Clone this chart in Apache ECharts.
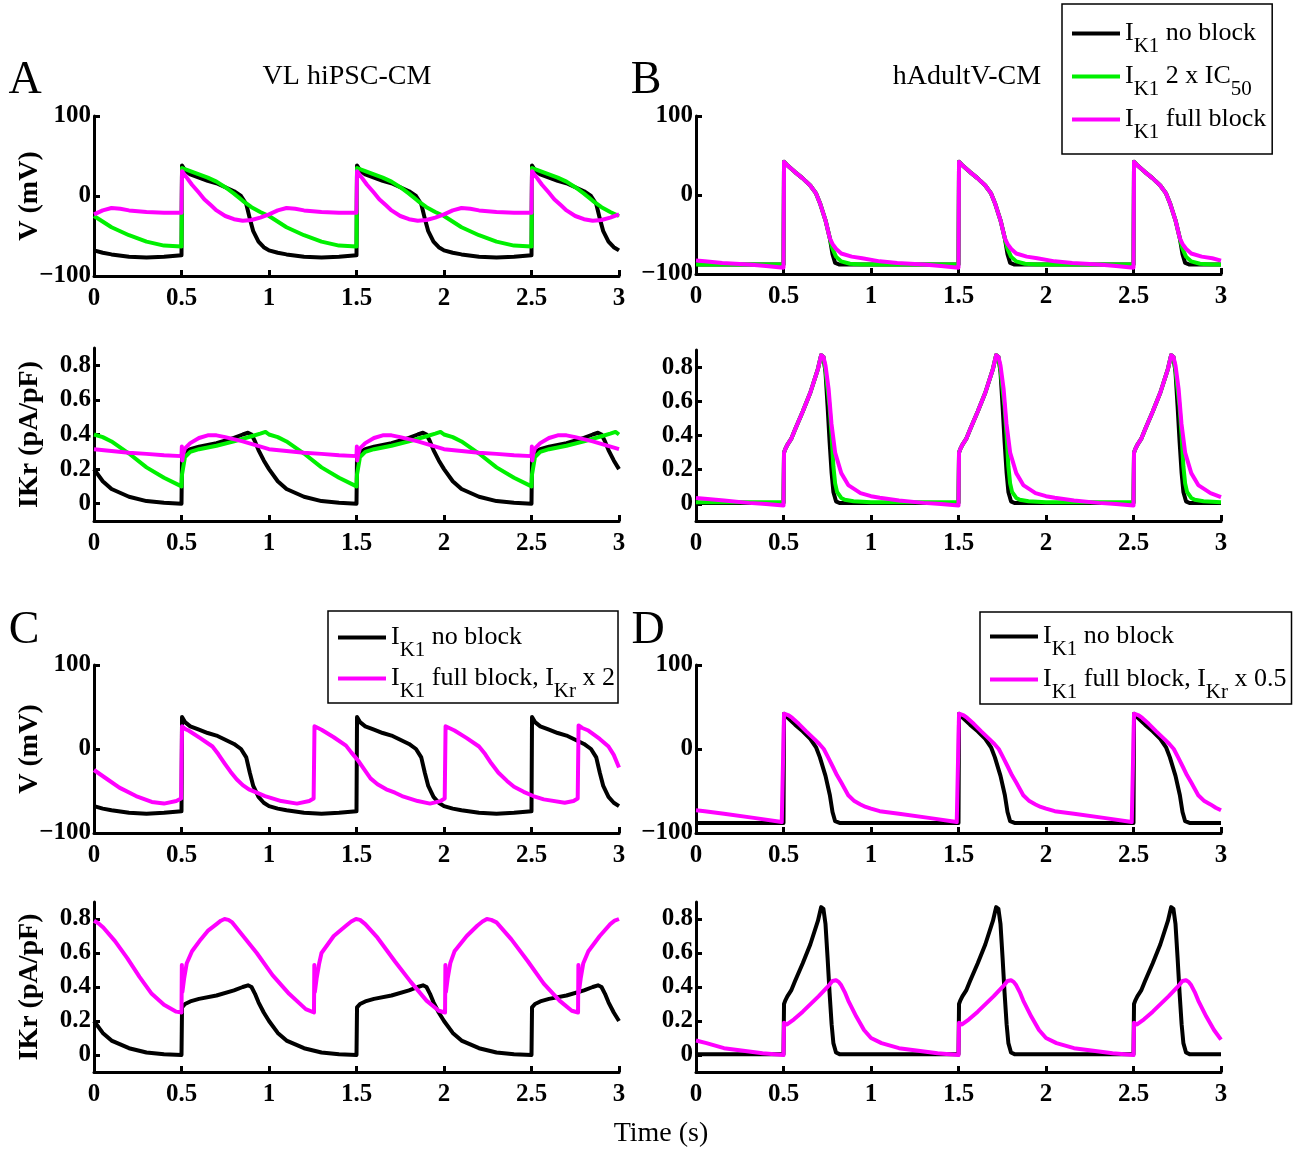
<!DOCTYPE html>
<html>
<head>
<meta charset="utf-8">
<script src="https://cdn.jsdelivr.net/npm/echarts@6.0.0/dist/echarts.min.js"></script>
<style>
  html, body { margin: 0; padding: 0; background: #fff; }
  #chart { width: 1304px; height: 1151px; }
</style>
</head>
<body>
<div id="chart"></div>
<script>
// ---- data: [time (s), value] ----
// VL hiPSC-CM, membrane potential (mV)
const hipscVNoBlock = [[0,-68],[0.05,-71],[0.1,-73],[0.2,-76],[0.3,-77],[0.4,-76],[0.5,-74],
  [0.503,38],[0.52,32],[0.55,27],[0.6,23],[0.65,19],[0.7,16],[0.75,11],[0.8,6],[0.84,0],[0.87,-10],[0.89,-28],[0.91,-44],[0.94,-57],[0.97,-64],[1.0,-68],[1.05,-71],[1.1,-73],[1.2,-76],[1.3,-77],[1.4,-76],[1.5,-74],
  [1.503,38],[1.52,32],[1.55,27],[1.6,23],[1.65,19],[1.7,16],[1.75,11],[1.8,6],[1.84,0],[1.87,-10],[1.89,-28],[1.91,-44],[1.94,-57],[1.97,-64],[2.0,-68],[2.05,-71],[2.1,-73],[2.2,-76],[2.3,-77],[2.4,-76],[2.5,-74],
  [2.503,38],[2.52,32],[2.55,27],[2.6,23],[2.65,19],[2.7,16],[2.75,11],[2.8,6],[2.84,0],[2.87,-10],[2.89,-28],[2.91,-44],[2.94,-57],[2.97,-64],[3.0,-68]];
const hipscVIc50 = [[0,-25],[0.1,-39],[0.2,-49],[0.3,-57],[0.4,-62],[0.5,-63],
  [0.503,35],[0.55,31],[0.6,27],[0.65,23],[0.7,18],[0.75,11],[0.8,3],[0.85,-6],[0.9,-14],[0.95,-20],[1.0,-25],[1.1,-39],[1.2,-49],[1.3,-57],[1.4,-62],[1.5,-63],
  [1.503,35],[1.55,31],[1.6,27],[1.65,23],[1.7,18],[1.75,11],[1.8,3],[1.85,-6],[1.9,-14],[1.95,-20],[2.0,-25],[2.1,-39],[2.2,-49],[2.3,-57],[2.4,-62],[2.5,-63],
  [2.503,35],[2.55,31],[2.6,27],[2.65,23],[2.7,18],[2.75,11],[2.8,3],[2.85,-6],[2.9,-14],[2.95,-20],[3.0,-25]];
const hipscVFull = [[0,-23],[0.05,-18],[0.1,-15],[0.15,-16],[0.2,-18],[0.3,-20],[0.4,-21],[0.5,-21],
  [0.503,31],[0.53,23],[0.56,14],[0.6,4],[0.63,-4],[0.67,-12],[0.7,-18],[0.75,-25],[0.8,-29],[0.85,-31],[0.9,-30],[0.95,-27],[1.0,-23],[1.05,-18],[1.1,-15],[1.15,-16],[1.2,-18],[1.3,-20],[1.4,-21],[1.5,-21],
  [1.503,31],[1.53,23],[1.56,14],[1.6,4],[1.63,-4],[1.67,-12],[1.7,-18],[1.75,-25],[1.8,-29],[1.85,-31],[1.9,-30],[1.95,-27],[2.0,-23],[2.05,-18],[2.1,-15],[2.15,-16],[2.2,-18],[2.3,-20],[2.4,-21],[2.5,-21],
  [2.503,31],[2.53,23],[2.56,14],[2.6,4],[2.63,-4],[2.67,-12],[2.7,-18],[2.75,-25],[2.8,-29],[2.85,-31],[2.9,-30],[2.95,-27],[3.0,-23]];
const hipscVKr2 = [[0,-25],[0.076,-36],[0.145,-46],[0.24,-56],[0.33,-63],[0.4,-65],[0.47,-62],[0.498,-59],
  [0.503,27],[0.52,24],[0.54,22],[0.607,13],[0.677,3],[0.71,-6],[0.746,-17],[0.78,-27],[0.815,-36],[0.85,-43],[0.885,-48],[0.93,-52],[0.977,-56],[1.07,-62],[1.16,-65],[1.23,-62],[1.255,-59],
  [1.26,27],[1.28,25],[1.3,23],[1.37,14],[1.44,4],[1.47,-4],[1.51,-14],[1.55,-26],[1.58,-35],[1.62,-42],[1.67,-48],[1.72,-52],[1.76,-56],[1.85,-62],[1.92,-65],[1.98,-62],[2.004,-59],
  [2.009,27],[2.03,25],[2.06,22],[2.13,13],[2.2,3],[2.235,-6],[2.27,-17],[2.31,-28],[2.36,-38],[2.4,-45],[2.455,-51],[2.51,-56],[2.57,-60],[2.69,-64],[2.74,-62],[2.764,-59],
  [2.769,28],[2.79,25],[2.825,22],[2.89,12],[2.94,3],[2.97,-7],[3.0,-22]];

// VL hiPSC-CM, IKr (pA/pF)
const hipscINoBlock = [[0,0.2],[0.05,0.13],[0.1,0.085],[0.2,0.04],[0.3,0.015],[0.4,0.005],[0.5,0],
  [0.503,0.28],[0.52,0.3],[0.55,0.315],[0.6,0.33],[0.7,0.35],[0.8,0.38],[0.85,0.4],[0.88,0.41],[0.9,0.4],[0.92,0.36],[0.94,0.31],[0.97,0.25],[1.0,0.2],[1.05,0.13],[1.1,0.085],[1.2,0.04],[1.3,0.015],[1.4,0.005],[1.5,0],
  [1.503,0.28],[1.52,0.3],[1.55,0.315],[1.6,0.33],[1.7,0.35],[1.8,0.38],[1.85,0.4],[1.88,0.41],[1.9,0.4],[1.92,0.36],[1.94,0.31],[1.97,0.25],[2.0,0.2],[2.05,0.13],[2.1,0.085],[2.2,0.04],[2.3,0.015],[2.4,0.005],[2.5,0],
  [2.503,0.28],[2.52,0.3],[2.55,0.315],[2.6,0.33],[2.7,0.35],[2.8,0.38],[2.85,0.4],[2.88,0.41],[2.9,0.4],[2.92,0.36],[2.94,0.31],[2.97,0.25],[3.0,0.2]];
const hipscIIc50 = [[0,0.4],[0.05,0.385],[0.1,0.36],[0.2,0.29],[0.3,0.21],[0.4,0.15],[0.5,0.1],
  [0.503,0.17],[0.52,0.27],[0.55,0.3],[0.6,0.315],[0.7,0.335],[0.8,0.36],[0.9,0.39],[0.95,0.405],[0.98,0.415],[1.0,0.4],[1.05,0.385],[1.1,0.36],[1.2,0.29],[1.3,0.21],[1.4,0.15],[1.5,0.1],
  [1.503,0.17],[1.52,0.27],[1.55,0.3],[1.6,0.315],[1.7,0.335],[1.8,0.36],[1.9,0.39],[1.95,0.405],[1.98,0.415],[2.0,0.4],[2.05,0.385],[2.1,0.36],[2.2,0.29],[2.3,0.21],[2.4,0.15],[2.5,0.1],
  [2.503,0.17],[2.52,0.27],[2.55,0.3],[2.6,0.315],[2.7,0.335],[2.8,0.36],[2.9,0.39],[2.95,0.405],[2.98,0.415],[3.0,0.4]];
const hipscIFull = [[0,0.315],[0.1,0.305],[0.2,0.295],[0.3,0.288],[0.4,0.28],[0.5,0.275],
  [0.502,0.33],[0.504,0.25],[0.51,0.29],[0.52,0.32],[0.55,0.35],[0.6,0.38],[0.65,0.395],[0.7,0.395],[0.75,0.385],[0.85,0.36],[1.0,0.315],[1.1,0.305],[1.2,0.295],[1.3,0.288],[1.4,0.28],[1.5,0.275],
  [1.502,0.33],[1.504,0.25],[1.51,0.29],[1.52,0.32],[1.55,0.35],[1.6,0.38],[1.65,0.395],[1.7,0.395],[1.75,0.385],[1.85,0.36],[2.0,0.315],[2.1,0.305],[2.2,0.295],[2.3,0.288],[2.4,0.28],[2.5,0.275],
  [2.502,0.33],[2.504,0.25],[2.51,0.29],[2.52,0.32],[2.55,0.35],[2.6,0.38],[2.65,0.395],[2.7,0.395],[2.75,0.385],[2.85,0.36],[3.0,0.315]];
const hipscIKr2 = [[0,0.79],[0.025,0.775],[0.053,0.75],[0.12,0.67],[0.19,0.57],[0.26,0.46],[0.33,0.36],[0.4,0.295],[0.47,0.255],[0.5,0.25],
  [0.502,0.53],[0.505,0.37],[0.515,0.45],[0.53,0.54],[0.56,0.61],[0.61,0.68],[0.65,0.73],[0.7,0.77],[0.725,0.79],[0.746,0.8],[0.768,0.795],[0.79,0.78],[0.86,0.69],[0.93,0.6],[1.02,0.47],[1.115,0.36],[1.21,0.27],[1.257,0.25],
  [1.259,0.53],[1.262,0.37],[1.272,0.45],[1.287,0.54],[1.3,0.6],[1.37,0.7],[1.44,0.76],[1.47,0.785],[1.497,0.8],[1.52,0.795],[1.55,0.77],[1.62,0.69],[1.72,0.55],[1.81,0.43],[1.9,0.32],[1.97,0.26],[2.006,0.25],
  [2.008,0.53],[2.011,0.37],[2.021,0.45],[2.036,0.54],[2.06,0.61],[2.13,0.7],[2.19,0.76],[2.22,0.785],[2.245,0.8],[2.27,0.795],[2.3,0.78],[2.385,0.68],[2.48,0.55],[2.57,0.42],[2.66,0.32],[2.73,0.26],[2.766,0.25],
  [2.768,0.53],[2.771,0.37],[2.781,0.45],[2.796,0.54],[2.825,0.61],[2.89,0.7],[2.95,0.77],[2.975,0.79],[3.0,0.8]];

// hAdultV-CM, membrane potential (mV)
const adultVNoBlock = [[0,-88],[0.25,-88],[0.5,-88],
  [0.503,42],[0.52,38],[0.566,29],[0.61,21],[0.653,12],[0.686,2],[0.708,-10],[0.74,-32],[0.765,-55],[0.78,-75],[0.795,-86],[0.82,-88],[1.1,-88],[1.5,-88],
  [1.503,42],[1.52,38],[1.566,29],[1.61,21],[1.653,12],[1.686,2],[1.708,-10],[1.74,-32],[1.765,-55],[1.78,-75],[1.795,-86],[1.82,-88],[2.1,-88],[2.5,-88],
  [2.503,42],[2.52,38],[2.566,29],[2.61,21],[2.653,12],[2.686,2],[2.708,-10],[2.74,-32],[2.765,-55],[2.78,-75],[2.795,-86],[2.82,-88],[3.0,-88]];
const adultVIc50 = [[0,-88],[0.25,-88],[0.5,-88],
  [0.503,42],[0.52,38],[0.566,29],[0.61,21],[0.653,12],[0.686,2],[0.708,-10],[0.74,-32],[0.765,-55],[0.78,-68],[0.8,-78],[0.83,-84],[0.88,-87],[0.95,-88],[1.2,-88],[1.5,-88],
  [1.503,42],[1.52,38],[1.566,29],[1.61,21],[1.653,12],[1.686,2],[1.708,-10],[1.74,-32],[1.765,-55],[1.78,-68],[1.8,-78],[1.83,-84],[1.88,-87],[1.95,-88],[2.2,-88],[2.5,-88],
  [2.503,42],[2.52,38],[2.566,29],[2.61,21],[2.653,12],[2.686,2],[2.708,-10],[2.74,-32],[2.765,-55],[2.78,-68],[2.8,-78],[2.83,-84],[2.88,-87],[2.95,-88],[3.0,-88]];
const adultVFull = [[0,-83],[0.05,-84],[0.15,-86],[0.3,-88],[0.4,-90],[0.5,-92],
  [0.503,42],[0.52,38],[0.566,29],[0.61,21],[0.653,12],[0.686,2],[0.708,-10],[0.74,-32],[0.765,-55],[0.78,-62],[0.8,-68],[0.83,-74],[0.89,-78],[0.95,-80],[1.05,-84],[1.15,-86],[1.3,-88],[1.4,-90],[1.5,-92],
  [1.503,42],[1.52,38],[1.566,29],[1.61,21],[1.653,12],[1.686,2],[1.708,-10],[1.74,-32],[1.765,-55],[1.78,-62],[1.8,-68],[1.83,-74],[1.89,-78],[1.95,-80],[2.05,-84],[2.15,-86],[2.3,-88],[2.4,-90],[2.5,-92],
  [2.503,42],[2.52,38],[2.566,29],[2.61,21],[2.653,12],[2.686,2],[2.708,-10],[2.74,-32],[2.765,-55],[2.78,-62],[2.8,-68],[2.83,-74],[2.89,-78],[2.95,-80],[3.0,-83]];
const adultVKr05 = [[0,-73],[0.05,-74],[0.16,-77],[0.33,-82],[0.49,-87],[0.5,-89],
  [0.503,42],[0.53,40],[0.55,37],[0.587,30],[0.63,21],[0.675,12],[0.705,6],[0.73,0],[0.755,-10],[0.784,-22],[0.805,-31],[0.83,-40],[0.87,-55],[0.905,-62],[0.94,-66],[0.97,-69],[1.0,-71],[1.05,-74],[1.16,-77],[1.33,-82],[1.49,-87],[1.5,-89],
  [1.503,42],[1.53,40],[1.55,37],[1.587,30],[1.63,21],[1.675,12],[1.705,6],[1.73,0],[1.755,-10],[1.784,-22],[1.805,-31],[1.83,-40],[1.87,-55],[1.905,-62],[1.94,-66],[1.97,-69],[2.0,-71],[2.05,-74],[2.16,-77],[2.33,-82],[2.49,-87],[2.5,-89],
  [2.503,42],[2.53,40],[2.55,37],[2.587,30],[2.63,21],[2.675,12],[2.705,6],[2.73,0],[2.755,-10],[2.784,-22],[2.805,-31],[2.83,-40],[2.87,-55],[2.905,-62],[2.94,-66],[2.97,-70],[3.0,-73]];

// hAdultV-CM, IKr (pA/pF)
const adultINoBlock = [[0,0.005],[0.25,0.005],[0.5,0.005],
  [0.503,0.3],[0.51,0.32],[0.522,0.345],[0.544,0.38],[0.566,0.435],[0.61,0.54],[0.653,0.65],[0.697,0.79],[0.715,0.87],[0.728,0.86],[0.74,0.77],[0.752,0.57],[0.763,0.37],[0.775,0.18],[0.785,0.07],[0.8,0.015],[0.82,0.005],[1.1,0.005],[1.5,0.005],
  [1.503,0.3],[1.51,0.32],[1.522,0.345],[1.544,0.38],[1.566,0.435],[1.61,0.54],[1.653,0.65],[1.697,0.79],[1.715,0.87],[1.728,0.86],[1.74,0.77],[1.752,0.57],[1.763,0.37],[1.775,0.18],[1.785,0.07],[1.8,0.015],[1.82,0.005],[2.1,0.005],[2.5,0.005],
  [2.503,0.3],[2.51,0.32],[2.522,0.345],[2.544,0.38],[2.566,0.435],[2.61,0.54],[2.653,0.65],[2.697,0.79],[2.715,0.87],[2.728,0.86],[2.74,0.77],[2.752,0.57],[2.763,0.37],[2.775,0.18],[2.785,0.07],[2.8,0.015],[2.82,0.005],[3.0,0.005]];
const adultIIc50 = [[0,0.01],[0.25,0.01],[0.5,0.01],
  [0.503,0.3],[0.51,0.32],[0.522,0.345],[0.544,0.38],[0.566,0.435],[0.61,0.54],[0.653,0.65],[0.697,0.79],[0.715,0.87],[0.728,0.86],[0.74,0.78],[0.752,0.67],[0.763,0.57],[0.775,0.4],[0.785,0.22],[0.795,0.12],[0.806,0.07],[0.83,0.035],[0.85,0.024],[0.9,0.015],[1.0,0.01],[1.5,0.01],
  [1.503,0.3],[1.51,0.32],[1.522,0.345],[1.544,0.38],[1.566,0.435],[1.61,0.54],[1.653,0.65],[1.697,0.79],[1.715,0.87],[1.728,0.86],[1.74,0.78],[1.752,0.67],[1.763,0.57],[1.775,0.4],[1.785,0.22],[1.795,0.12],[1.806,0.07],[1.83,0.035],[1.85,0.024],[1.9,0.015],[2.0,0.01],[2.5,0.01],
  [2.503,0.3],[2.51,0.32],[2.522,0.345],[2.544,0.38],[2.566,0.435],[2.61,0.54],[2.653,0.65],[2.697,0.79],[2.715,0.87],[2.728,0.86],[2.74,0.78],[2.752,0.67],[2.763,0.57],[2.775,0.4],[2.785,0.22],[2.795,0.12],[2.806,0.07],[2.83,0.035],[2.85,0.024],[2.9,0.015],[3.0,0.01]];
const adultIFull = [[0,0.035],[0.05,0.03],[0.16,0.02],[0.3,0.006],[0.4,0],[0.5,-0.01],
  [0.503,0.3],[0.51,0.32],[0.522,0.345],[0.544,0.38],[0.566,0.435],[0.61,0.54],[0.653,0.65],[0.697,0.79],[0.715,0.87],[0.728,0.86],[0.74,0.81],[0.758,0.67],[0.774,0.47],[0.795,0.3],[0.83,0.18],[0.87,0.11],[0.94,0.063],[1.0,0.045],[1.05,0.036],[1.16,0.02],[1.3,0.006],[1.4,0],[1.5,-0.01],
  [1.503,0.3],[1.51,0.32],[1.522,0.345],[1.544,0.38],[1.566,0.435],[1.61,0.54],[1.653,0.65],[1.697,0.79],[1.715,0.87],[1.728,0.86],[1.74,0.81],[1.758,0.67],[1.774,0.47],[1.795,0.3],[1.83,0.18],[1.87,0.11],[1.94,0.063],[2.0,0.045],[2.05,0.036],[2.16,0.02],[2.3,0.006],[2.4,0],[2.5,-0.01],
  [2.503,0.3],[2.51,0.32],[2.522,0.345],[2.544,0.38],[2.566,0.435],[2.61,0.54],[2.653,0.65],[2.697,0.79],[2.715,0.87],[2.728,0.86],[2.74,0.81],[2.758,0.67],[2.774,0.47],[2.795,0.3],[2.83,0.18],[2.87,0.11],[2.94,0.063],[3.0,0.04]];
const adultIKr05 = [[0,0.085],[0.06,0.07],[0.16,0.04],[0.38,0.01],[0.5,0],
  [0.503,0.19],[0.52,0.18],[0.56,0.21],[0.61,0.255],[0.7,0.345],[0.76,0.41],[0.78,0.435],[0.8,0.44],[0.815,0.43],[0.83,0.41],[0.85,0.37],[0.87,0.32],[0.916,0.226],[0.96,0.147],[1.0,0.1],[1.06,0.07],[1.16,0.04],[1.38,0.01],[1.5,0],
  [1.503,0.19],[1.52,0.18],[1.56,0.21],[1.61,0.255],[1.7,0.345],[1.76,0.41],[1.78,0.435],[1.8,0.44],[1.815,0.43],[1.83,0.41],[1.85,0.37],[1.87,0.32],[1.916,0.226],[1.96,0.147],[2.0,0.1],[2.06,0.07],[2.16,0.04],[2.38,0.01],[2.5,0],
  [2.503,0.19],[2.52,0.18],[2.56,0.21],[2.61,0.255],[2.7,0.345],[2.76,0.41],[2.78,0.435],[2.8,0.44],[2.815,0.43],[2.83,0.41],[2.85,0.37],[2.87,0.32],[2.916,0.226],[2.96,0.147],[3.0,0.09]];

const ikrTicks = [0, 0.2, 0.4, 0.6, 0.8];
const legendLabels = {
  noblock: '{t|I}{s|K1}{t| no block}',
  ic50: '{t|I}{s|K1}{t| 2 x IC}{s|50}',
  full: '{t|I}{s|K1}{t| full block}',
  kr2: '{t|I}{s|K1}{t| full block, I}{s|Kr}{t| x 2}',
  kr05: '{t|I}{s|K1}{t| full block, I}{s|Kr}{t| x 0.5}'
};

const FONT = '"Liberation Serif", "Times New Roman", serif';
const BLACK = '#000000', GREEN = '#00f000', MAGENTA = '#ff00ff';

// panel boxes: left, top, width, height
const grids = [
  { left: 94, top: 116, width: 525, height: 160 },
  { left: 94, top: 348, width: 525, height: 173 },
  { left: 696, top: 116, width: 525, height: 158 },
  { left: 696, top: 350, width: 525, height: 171 },
  { left: 94, top: 665, width: 525, height: 168 },
  { left: 94, top: 902, width: 525, height: 170 },
  { left: 696, top: 665, width: 525, height: 168 },
  { left: 696, top: 902, width: 525, height: 170 }
];

const axisLine = { onZero: false, lineStyle: { color: '#000', width: 3 } };
const tickStyle = { color: '#000', width: 3 };
const tickFont = { color: '#000', fontFamily: FONT, fontSize: 25, fontWeight: 'bold' };
const nameFont = { color: '#000', fontFamily: FONT, fontSize: 28, fontWeight: 'bold' };

function xAxis(i) {
  return {
    type: 'value', gridIndex: i, min: 0, max: 3, interval: 0.5,
    axisLine: axisLine,
    axisTick: { inside: true, length: 6, lineStyle: tickStyle },
    axisLabel: Object.assign({ margin: 10 }, tickFont),
    splitLine: { show: false }
  };
}
function yAxisV(i, withName) {
  return {
    type: 'value', gridIndex: i, min: -100, max: 100, interval: 100,
    axisLine: axisLine,
    axisTick: { inside: true, length: 6, lineStyle: tickStyle },
    axisLabel: Object.assign({ margin: 3, formatter: v => String(v).replace('-', '\u2212') }, tickFont),
    splitLine: { show: false },
    name: withName ? 'V (mV)' : '', nameLocation: 'middle', nameGap: 50, nameRotate: 90,
    nameMoveOverlap: false,
    nameTextStyle: nameFont
  };
}
function yAxisI(i, withName) {
  return {
    type: 'value', gridIndex: i, min: -0.1, max: 0.9,
    axisLine: axisLine,
    axisTick: { inside: true, length: 6, lineStyle: tickStyle, customValues: ikrTicks },
    axisLabel: Object.assign({ margin: 3, customValues: ikrTicks,
      formatter: v => (v === 0 ? '0' : String(v)) }, tickFont),
    splitLine: { show: false },
    name: withName ? 'IKr (pA/pF)' : '', nameLocation: 'middle', nameGap: 50, nameRotate: 90,
    nameMoveOverlap: false,
    nameTextStyle: nameFont
  };
}
function trace(name, data, color, idx) {
  return {
    type: 'line', name: name, data: data, xAxisIndex: idx, yAxisIndex: idx,
    showSymbol: false, symbol: 'none', color: color,
    itemStyle: { color: color }, lineStyle: { color: color, width: 4, join: 'round' },
    silent: true, animation: false
  };
}
function legend(names, left, top, padding, gap) {
  return {
    data: names, orient: 'vertical', left: left, top: top, padding: padding,
    itemGap: gap, itemWidth: 48, itemHeight: 4, icon: 'rect', selectedMode: false,
    backgroundColor: '#fff', borderColor: '#000', borderWidth: 1.5, borderRadius: 0,
    formatter: n => legendLabels[n],
    textStyle: {
      color: '#000',
      rich: {
        t: { fontFamily: FONT, fontSize: 26, lineHeight: 30, color: '#000' },
        s: { fontFamily: FONT, fontSize: 21, lineHeight: 14, padding: [26, 0, 0, 0], color: '#000' }
      }
    }
  };
}
function label(text, x, y, size, weight) {
  return {
    type: 'text', x: x, y: y, silent: true,
    style: { text: text, fill: '#000', font: (weight || 'normal') + ' ' + size + 'px ' + FONT,
      align: 'center', verticalAlign: 'middle', textAlign: 'center', textVerticalAlign: 'middle' }
  };
}

const chart = echarts.init(document.getElementById('chart'));
chart.setOption({
  backgroundColor: '#fff',
  animation: false,
  grid: grids,
  xAxis: [0, 1, 2, 3, 4, 5, 6, 7].map(xAxis),
  yAxis: [yAxisV(0, true), yAxisI(1, true), yAxisV(2, false), yAxisI(3, false),
          yAxisV(4, true), yAxisI(5, true), yAxisV(6, false), yAxisI(7, false)],
  legend: [
    legend(['noblock', 'ic50', 'full'], 1062, 4, [6, 6, 11, 10], -4),
    legend(['noblock', 'kr2'], 328, 611, [3, 3, 1, 10], -6),
    legend(['noblock', 'kr05'], 980, 612, [1, 5, 1, 10], -4)
  ],
  series: [
    trace('noblock', hipscVNoBlock, BLACK, 0),
    trace('ic50', hipscVIc50, GREEN, 0),
    trace('full', hipscVFull, MAGENTA, 0),
    trace('noblock', hipscINoBlock, BLACK, 1),
    trace('ic50', hipscIIc50, GREEN, 1),
    trace('full', hipscIFull, MAGENTA, 1),
    trace('noblock', adultVNoBlock, BLACK, 2),
    trace('ic50', adultVIc50, GREEN, 2),
    trace('full', adultVFull, MAGENTA, 2),
    trace('noblock', adultINoBlock, BLACK, 3),
    trace('ic50', adultIIc50, GREEN, 3),
    trace('full', adultIFull, MAGENTA, 3),
    trace('noblock', hipscVNoBlock, BLACK, 4),
    trace('kr2', hipscVKr2, MAGENTA, 4),
    trace('noblock', hipscINoBlock, BLACK, 5),
    trace('kr2', hipscIKr2, MAGENTA, 5),
    trace('noblock', adultVNoBlock, BLACK, 6),
    trace('kr05', adultVKr05, MAGENTA, 6),
    trace('noblock', adultINoBlock, BLACK, 7),
    trace('kr05', adultIKr05, MAGENTA, 7)
  ],
  graphic: [
    label('A', 25, 81, 46),
    label('B', 646, 81, 46),
    label('C', 24, 631, 46),
    label('D', 648, 631, 46),
    label('VL hiPSC-CM', 347, 77, 28),
    label('hAdultV-CM', 967, 77, 28),
    label('Time (s)', 661, 1134, 28)
  ]
});
</script>
</body>
</html>
